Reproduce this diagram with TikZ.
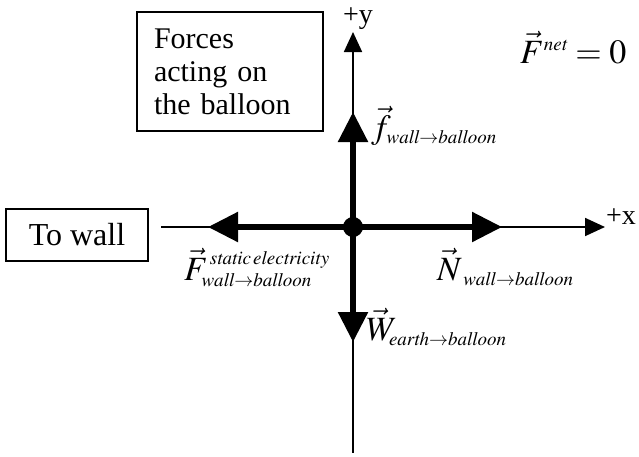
\documentclass[tikz,border=0pt]{standalone}
\usepackage{amsmath}
\usepackage{mathptmx}
\usepackage{fontspec}
\setmainfont{Liberation Serif}
\DeclareMathSizes{34}{34}{19}{15}
\usepackage{tikz}
\usetikzlibrary{arrows.meta}
\tikzset{
  labelbox/.style={draw=black,line width=1.3pt,inner sep=0pt},
  axisline/.style={-{Triangle[length=20pt,width=18pt]},line width=1.8pt},
  forcearrow/.style={-{Triangle[length=30pt,width=29pt]},line width=5.5pt},
  forcelabel/.style={inner sep=0pt,anchor=base west,font=\fontsize{34}{38}\selectfont},
  every picture/.style={font=\fontsize{30}{33}\selectfont}
}

\begin{document}
\begin{tikzpicture}[x=1pt,y=-1pt]
  \useasboundingbox (0,0) rectangle (639,456);
  \node[labelbox,minimum width=186pt,minimum height=119pt,text width=152pt,align=left]
    (title) at (230,71.5) {Forces\\acting on\\the balloon};
  \node[labelbox,minimum width=142pt,minimum height=52pt,align=center,
    font=\fontsize{32}{35}\selectfont] (wall) at (77,235) {To wall};
  \coordinate (balloon) at (353,227);
  \coordinate (xleft) at (161,227);
  \coordinate (xtip) at (605,227);
  \coordinate (ybottom) at (353,453);
  \coordinate (ytip) at (353,32);
  % Thin axes first, the force vectors sit on top of them.
  \draw[line width=1.8pt] (xleft) -- (balloon);
  \draw[axisline] (balloon) -- (xtip);
  \draw[line width=1.8pt] (balloon) -- (ybottom);
  \draw[axisline] (balloon) -- (ytip);
  \node[anchor=east,inner sep=1pt,font=\fontsize{28}{30}\selectfont] (plusx) at (637,217) {+x};
  \node[inner sep=0pt,font=\fontsize{28}{30}\selectfont] (plusy) at (358,19) {+y};
  \coordinate (ftip) at (353,112);
  \coordinate (Ftip) at (208,227);
  \coordinate (Ntip) at (502,227);
  \coordinate (Wtip) at (353,342);
  \draw[forcearrow] (balloon) -- (ftip);
  \draw[forcearrow] (balloon) -- (Ftip);
  \draw[forcearrow] (balloon) -- (Ntip);
  \draw[forcearrow] (balloon) -- (Wtip);
  \fill (balloon) circle (10pt);
  \node[forcelabel] (flabel) at (371,138)
    {$\vec{f}_{\mathit{wall}\rightarrow\mathit{balloon}}$};
  \node[forcelabel] (Flabel) at (184,280)
    {$\vec{F}^{\,\mathit{static\,electricity}}_{\mathit{wall}\rightarrow\mathit{balloon}}$};
  \node[forcelabel] (Nlabel) at (437,280)
    {$\vec{N}_{\;\mathit{wall}\rightarrow\mathit{balloon}}$};
  \node[forcelabel] (Wlabel) at (366,340)
    {$\vec{W}_{\!\mathit{earth}\rightarrow\mathit{balloon}}$};
  \node[forcelabel] (net) at (520,63) {$\vec{F}^{\mathit{net}}\mkern4mu{=}\mkern4mu0$};
\end{tikzpicture}
\end{document}
